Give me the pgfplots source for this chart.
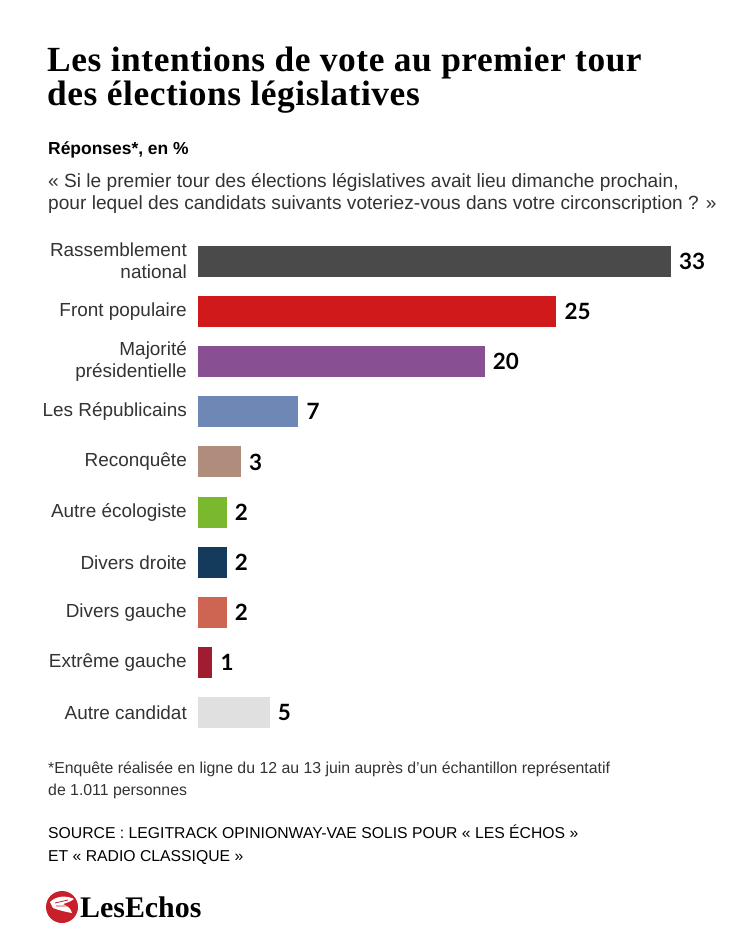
\documentclass[border=0pt]{standalone}
\usepackage{fontspec}
\setmainfont{Liberation Sans}
\newfontfamily\serifb{Liberation Serif}
\newfontfamily\valfont{Lato}
\usepackage{pgfplots}
\pgfplotsset{compat=1.18}
\definecolor{cRN}{HTML}{4A4A4A}
\definecolor{cFP}{HTML}{D0191B}
\definecolor{cMP}{HTML}{884F92}
\definecolor{cLR}{HTML}{6F87B4}
\definecolor{cREC}{HTML}{B08C7D}
\definecolor{cAE}{HTML}{7AB82D}
\definecolor{cDD}{HTML}{143B5C}
\definecolor{cDG}{HTML}{CD6552}
\definecolor{cEG}{HTML}{A01C30}
\definecolor{cAC}{HTML}{E0E0E0}
\definecolor{labelgray}{HTML}{333333}
\definecolor{echosred}{HTML}{C8202A}
\begin{document}
\begin{tikzpicture}[x=1bp,y=1bp]
\path[use as bounding box, fill=white] (0,0) rectangle (750,-938);
% title
\node[anchor=base west, inner sep=0, font=\serifb\bfseries\fontsize{35.5}{32}\selectfont\addfontfeature{LetterSpace=1.6}] at (47,-71) {Les intentions de vote au premier tour};
\node[anchor=base west, inner sep=0, font=\serifb\bfseries\fontsize{35.5}{32}\selectfont\addfontfeature{LetterSpace=1.6}] at (47,-105) {des élections législatives};
% subtitle
\node[anchor=base west, inner sep=0, font=\bfseries\fontsize{17.5}{20}\selectfont, text=black] at (48,-154) {Réponses*, en \%};
\node[anchor=base west, inner sep=0, font=\fontsize{19.2}{20}\selectfont, text=labelgray] at (48,-187) {« Si le premier tour des élections législatives avait lieu dimanche prochain,};
\node[anchor=base west, inner sep=0, font=\fontsize{19.2}{20}\selectfont, text=labelgray] at (48,-209) {pour lequel des candidats suivants voteriez-vous dans votre circonscription ? »};
% footnote
\node[anchor=base west, inner sep=0, font=\fontsize{15.9}{17}\selectfont, text=labelgray] at (48,-773) {*Enquête réalisée en ligne du 12 au 13 juin auprès d'un échantillon représentatif};
\node[anchor=base west, inner sep=0, font=\fontsize{15.9}{17}\selectfont, text=labelgray] at (48,-795) {de 1.011 personnes};
\node[anchor=base west, inner sep=0, font=\fontsize{15.8}{17}\selectfont, text=black] at (48,-838) {SOURCE : LEGITRACK OPINIONWAY-VAE SOLIS POUR « LES ÉCHOS »};
\node[anchor=base west, inner sep=0, font=\fontsize{15.8}{17}\selectfont, text=black] at (48,-861) {ET « RADIO CLASSIQUE »};
% logo
\fill[echosred] (62,-907) circle (16);
\fill[white] (50,-902) .. controls (56,-896) and (66,-895) .. (74,-899) .. controls (70,-902) and (66,-903) .. (63,-904) .. controls (68,-906) and (71,-909) .. (72,-913) .. controls (66,-912) and (58,-910) .. (53,-908) -- cycle;
\draw[echosred, line width=0.8] (55,-903) -- (68,-900) (56,-906) -- (67,-906);
\node[anchor=base west, inner sep=0, font=\serifb\bfseries\fontsize{30}{30}\selectfont] at (80,-917) {Les\kern0pt Echos};
% chart
\begin{axis}[
  at={(198bp,-236bp)}, anchor=north west,
  scale only axis, width=501.67bp, height=502bp,
  xmin=0, xmax=35, ymin=-0.5, ymax=9.5, y dir=reverse,
  xbar, bar width=31bp, bar shift=0pt,
  axis line style={draw=none}, major tick length=0pt,
  xtick=\empty, ytick={0,...,9},
  yticklabels={{Rassemblement\\national}, Front populaire, {Majorité\\présidentielle}, Les Républicains, Reconquête, Autre écologiste, Divers droite, Divers gauche, Extrême gauche, Autre candidat},
  yticklabel style={align=right, font=\fontsize{19}{22}\selectfont, text=labelgray, inner sep=0pt, xshift=-11bp},
  point meta=x,
  nodes near coords={\valfont\bfseries\pgfmathprintnumber[assume math mode=true]{\pgfplotspointmeta}},
  nodes near coords style={anchor=west, inner sep=0pt, xshift=8bp, font=\fontsize{22.5}{22}\selectfont, text=black},
  clip=false,
]
\addplot[fill=cRN, draw=none] coordinates {(33,0)};
\addplot[fill=cFP, draw=none] coordinates {(25,1)};
\addplot[fill=cMP, draw=none] coordinates {(20,2)};
\addplot[fill=cLR, draw=none] coordinates {(7,3)};
\addplot[fill=cREC, draw=none] coordinates {(3,4)};
\addplot[fill=cAE, draw=none] coordinates {(2,5)};
\addplot[fill=cDD, draw=none] coordinates {(2,6)};
\addplot[fill=cDG, draw=none] coordinates {(2,7)};
\addplot[fill=cEG, draw=none] coordinates {(1,8)};
\addplot[fill=cAC, draw=none] coordinates {(5,9)};
\end{axis}
\end{tikzpicture}
\end{document}
